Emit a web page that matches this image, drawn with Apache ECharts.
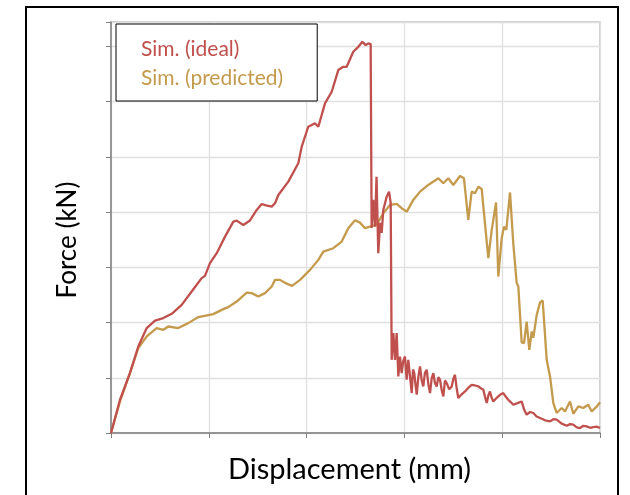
<!DOCTYPE html>
<html>
<head>
<meta charset="utf-8">
<script src="https://cdn.jsdelivr.net/npm/echarts@6/dist/echarts.min.js"></script>
<style>
  html, body { margin: 0; padding: 0; background: #ffffff; }
  #chart { width: 630px; height: 495px; }
</style>
</head>
<body>
<div id="chart"></div>
<script>
// Force–displacement response of the two simulations
const seriesNames = ['Sim. (ideal)', 'Sim. (predicted)'];

// Sim. (ideal): displacement (mm) and force (kN)
const idealDisp = [0, 0.092, 0.194, 0.279, 0.365, 0.450, 0.535, 0.621, 0.723, 0.825, 0.927, 0.961, 1.012, 1.081, 1.166, 1.251, 1.285, 1.353, 1.421, 1.490, 1.541, 1.585, 1.643, 1.677, 1.711, 1.813, 1.915, 1.950, 2.017, 2.086, 2.120, 2.188, 2.257, 2.324, 2.375, 2.410, 2.477, 2.529, 2.570, 2.604, 2.631, 2.655, 2.665,
  2.682, 2.699, 2.715, 2.733, 2.751, 2.768, 2.784, 2.819, 2.843, 2.860, 2.870, 2.887, 2.904, 2.921, 2.938, 2.955, 2.972, 2.989, 3.006, 3.023, 3.040, 3.058, 3.075, 3.088, 3.101,
  3.114, 3.126, 3.143, 3.160, 3.176, 3.193, 3.210, 3.228, 3.245, 3.262, 3.279, 3.296, 3.313, 3.330, 3.347, 3.364, 3.381, 3.398, 3.415, 3.433, 3.458, 3.484, 3.500, 3.517, 3.534, 3.551, 3.585, 3.620, 3.654, 3.688, 3.722, 3.756, 3.782, 3.807, 3.825, 3.842, 3.858, 3.875, 3.892, 3.909, 3.935, 3.960, 3.985, 4.011, 4.036, 4.062, 4.087, 4.113, 4.156, 4.199, 4.225, 4.250, 4.284, 4.318, 4.352, 4.387, 4.438, 4.489, 4.523, 4.557, 4.608, 4.660, 4.694, 4.727, 4.762, 4.796, 4.830, 4.864, 4.898, 4.932, 4.966, 5.000];
const idealForce = [0, 0.602, 1.090, 1.566, 1.899, 2.036, 2.080, 2.157, 2.320, 2.561, 2.803, 2.845, 3.074, 3.255, 3.555, 3.826, 3.844, 3.766, 3.848, 4.038, 4.146, 4.119, 4.098, 4.159, 4.309, 4.550, 4.882, 5.183, 5.544, 5.606, 5.544, 5.967, 6.177, 6.570, 6.629, 6.629, 6.901, 6.991, 7.081, 7.022, 7.052, 7.040, 3.712,
  4.219, 3.736, 4.640, 3.255, 3.803, 3.622, 4.038, 4.279, 4.369, 4.159, 1.325, 1.808, 1.325, 1.808, 1.024, 1.385, 1.085, 1.310, 1.385, 0.964, 1.325, 1.010, 0.723, 1.150, 1.085,
  0.870, 0.693, 1.020, 1.204, 0.960, 0.843, 1.090, 1.145, 0.880, 0.723, 0.990, 1.085, 0.900, 0.843, 1.010, 0.964, 0.780, 0.662, 0.950, 0.904, 0.790, 0.843, 0.980, 1.054, 0.820, 0.633, 0.700, 0.752, 0.820, 0.873, 0.860, 0.843, 0.810, 0.783, 0.650, 0.542, 0.680, 0.752, 0.640, 0.571, 0.620, 0.662, 0.700, 0.723, 0.660, 0.602, 0.560, 0.512, 0.540, 0.571, 0.420, 0.331, 0.380, 0.362, 0.300, 0.271, 0.230, 0.210, 0.250, 0.241, 0.170, 0.132, 0.160, 0.150, 0.100, 0.090, 0.130, 0.119, 0.095, 0.108, 0.115, 0.090];

// Sim. (predicted): displacement (mm) and force (kN)
const predDisp = [0, 0.092, 0.194, 0.279, 0.365, 0.467, 0.535, 0.586, 0.688, 0.790, 0.893, 1.046, 1.148, 1.199, 1.285, 1.388, 1.439, 1.506, 1.575, 1.643, 1.677, 1.728, 1.779, 1.851, 1.933, 2.035, 2.120,
  2.171, 2.273, 2.359, 2.426, 2.495, 2.546, 2.597, 2.648, 2.717, 2.784, 2.853, 2.921, 2.972, 3.024, 3.091, 3.160, 3.244, 3.347, 3.398, 3.449, 3.500, 3.569, 3.609, 3.653, 3.688, 3.722, 3.756, 3.790,
  3.858, 3.893, 3.937, 3.960, 3.995, 4.018, 4.042, 4.080, 4.113, 4.148, 4.165, 4.199, 4.223, 4.250, 4.277, 4.302, 4.318, 4.353, 4.387, 4.414, 4.455, 4.489, 4.523, 4.557, 4.608, 4.642, 4.693, 4.727, 4.779, 4.829, 4.880, 4.915, 4.966, 5.000];
const predForce = [0, 0.571, 1.085, 1.537, 1.747, 1.899, 1.868, 1.928, 1.899, 1.989, 2.098, 2.152, 2.242, 2.278, 2.380, 2.542, 2.532, 2.470, 2.532, 2.651, 2.772, 2.772, 2.718, 2.664, 2.772, 2.953, 3.134,
  3.284, 3.345, 3.465, 3.707, 3.852, 3.808, 3.707, 3.736, 3.767, 3.978, 4.128, 4.146, 4.069, 4.007, 4.219, 4.369, 4.490, 4.611, 4.521, 4.611, 4.490, 4.653, 4.611, 3.857, 4.369, 4.340, 4.459, 4.418,
  3.165, 3.676, 4.174, 2.832, 3.526, 3.736, 3.676, 4.354, 3.436, 2.718, 2.651, 1.642, 1.627, 2.018, 1.506, 1.837, 1.723, 2.139, 2.365, 2.398, 1.325, 1.024, 0.542, 0.362, 0.452, 0.391, 0.571, 0.349, 0.481, 0.452, 0.512, 0.391, 0.476, 0.557];

const seriesColors = ['#C0504D', '#C49A4C'];
const textFont = 'Lato, "Open Sans", sans-serif';

function pairs(xs, ys) {
  return xs.map((x, i) => [x, ys[i]]);
}

const chart = echarts.init(document.getElementById('chart'), null, { renderer: 'canvas' });

chart.setOption({
  animation: false,
  backgroundColor: '#ffffff',
  graphic: [
    {
      type: 'rect',
      shape: { x: 26, y: 7, width: 592, height: 510 },
      style: { fill: 'none', stroke: '#000000', lineWidth: 2 },
      silent: true,
      z: 0
    },
    {
      type: 'text',
      x: 68, y: 240,
      rotation: Math.PI / 2,
      style: {
        text: 'Force (kN)', fill: '#000000',
        font: '26px ' + textFont,
        align: 'center', verticalAlign: 'middle'
      },
      silent: true
    }
  ],
  grid: {
    left: 111, right: 30, top: 22, bottom: 62,
    show: true, borderColor: '#bfbfbf', borderWidth: 1.5, backgroundColor: 'transparent'
  },
  legend: {
    orient: 'vertical',
    left: 116, top: 24,
    padding: [13, 34, 11, 20],
    itemGap: 5,
    itemWidth: 0, itemHeight: 0,
    icon: 'rect',
    borderColor: '#000000', borderWidth: 1,
    backgroundColor: '#ffffff',
    data: seriesNames.map((n, i) => ({ name: n, textStyle: { color: seriesColors[i] } })),
    textStyle: { fontFamily: textFont, fontSize: 21, lineHeight: 24, padding: 0 },
    selectedMode: false
  },
  xAxis: {
    type: 'value', min: 0, max: 5, interval: 1,
    name: 'Displacement (mm)', nameLocation: 'middle', nameGap: 22,
    nameTextStyle: { fontFamily: textFont, fontSize: 29, color: '#000000', padding: [0, 12, 0, 0] },
    axisLine: { show: true, lineStyle: { color: '#808080', width: 1.5 } },
    axisTick: { show: true, length: 5, lineStyle: { color: '#808080' } },
    axisLabel: { show: false },
    splitLine: { show: true, lineStyle: { color: '#e0e0e0', width: 1.3 } }
  },
  yAxis: {
    type: 'value', min: 0, max: 7.44, interval: 1,
    axisLine: { show: true, lineStyle: { color: '#808080', width: 1.5 } },
    axisTick: { show: true, length: 5, lineStyle: { color: '#808080' } },
    axisLabel: { show: false },
    splitLine: { show: true, lineStyle: { color: '#e0e0e0', width: 1.3 } }
  },
  series: [
    {
      name: seriesNames[0], type: 'line', data: pairs(idealDisp, idealForce),
      showSymbol: false, symbol: 'none', z: 3,
      lineStyle: { color: seriesColors[0], width: 2.3 }, itemStyle: { color: seriesColors[0] }
    },
    {
      name: seriesNames[1], type: 'line', data: pairs(predDisp, predForce),
      showSymbol: false, symbol: 'none', z: 2,
      lineStyle: { color: seriesColors[1], width: 2.3 }, itemStyle: { color: seriesColors[1] }
    }
  ]
});
</script>
</body>
</html>
